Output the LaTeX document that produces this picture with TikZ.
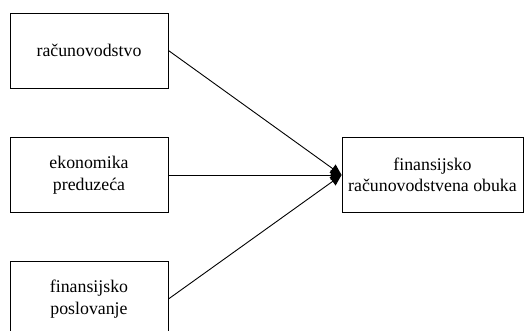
\documentclass[tikz,border=0pt]{standalone}
\usepackage{fontspec}
\setmainfont{Liberation Serif}
\usetikzlibrary{arrows.meta}
\begin{document}
\begin{tikzpicture}[x=1pt,y=-1pt,
  box/.style={draw,line width=0.9pt,minimum width=158pt,minimum height=75pt,inner sep=0pt,align=center,
    font=\fontsize{17.8}{21.5}\selectfont},
  conn/.style={line width=0.9pt,-{Triangle[length=11pt,width=10pt]}}]
\useasboundingbox (0,0) rectangle (525,331);
\node[box] (a) at (89,50.5) {računovodstvo};
\node[box] (b) at (89,175) {ekonomika\\preduzeća};
\node[box] (c) at (89,299) {finansijsko\\poslovanje};
\node[box,minimum width=181pt] (d) at (432.5,175) {finansijsko\\računovodstvena obuka};
\draw[conn] (a.east) -- (d.west);
\draw[conn] (b.east) -- (d.west);
\draw[conn] (c.east) -- (d.west);
\end{tikzpicture}
\end{document}
